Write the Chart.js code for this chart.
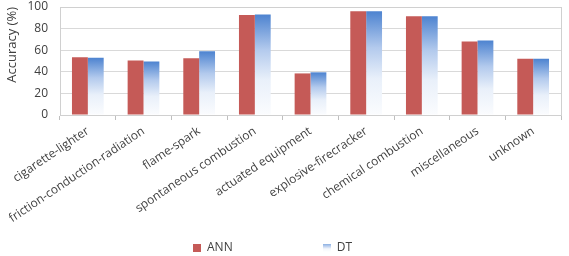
<!DOCTYPE html>
<html>
<head>
<meta charset="utf-8">
<script src="https://cdn.jsdelivr.net/npm/chart.js@4.4.1/dist/chart.umd.min.js"></script>
<style>
  html, body { margin: 0; padding: 0; background: #fff; overflow: hidden; }
  #wrap { width: 569px; height: 256px; }
</style>
</head>
<body>
<div id="wrap"><canvas id="accChart"></canvas></div>
<script>
var categories = ['cigarette-lighter', 'friction-conduction-radiation', 'flame-spark',
  'spontaneous combustion', 'actuated equipment', 'explosive-firecracker',
  'chemical combustion', 'miscellaneous', 'unknown'];
var annValues = [53.5, 50.5, 52.5, 92.5, 38.5, 96, 91.5, 68, 52];
var dtValues = [53, 49.5, 59, 93, 39.5, 96, 91.5, 69, 52];
var yTicks = [0, 20, 40, 60, 80, 100];

var textColor = '#404040';
var fontFamily = "'Open Sans', sans-serif";
var annColor = '#c55a57';

// blue-to-white fill for the DT bars, per bar from its top to the zero line
function dtFill(context) {
  if (context.type !== 'data') return '#8fb0e0';
  var chart = context.chart;
  var y = chart.scales.y;
  if (!chart.chartArea) return '#8fb0e0';
  var top = y.getPixelForValue(context.parsed.y);
  var bottom = y.getPixelForValue(0);
  var g = chart.ctx.createLinearGradient(0, top, 0, bottom);
  g.addColorStop(0, '#4d83d0');
  g.addColorStop(0.35, '#b3caed');
  g.addColorStop(0.65, '#e9f0fa');
  g.addColorStop(1, '#fbfcfe');
  return g;
}

// small legend swatches
function swatch(kind) {
  var c = document.createElement('canvas');
  c.width = 8; c.height = 8;
  var x = c.getContext('2d');
  if (kind === 'ann') {
    x.fillStyle = annColor;
    x.fillRect(0, 0, 8, 8);
  } else {
    var g = x.createLinearGradient(0, 0, 0, 8);
    g.addColorStop(0, '#8cb0e3');
    g.addColorStop(0.35, '#c9d9f2');
    g.addColorStop(0.6, '#f4f7fc');
    g.addColorStop(1, '#ffffff');
    x.fillStyle = g;
    x.fillRect(0, 0, 8, 8);
  }
  return c;
}
var swatches = [swatch('ann'), swatch('dt')];

// thin box round the plot area
var plotBorder = {
  id: 'plotBorder',
  afterDraw: function (chart) {
    var a = chart.chartArea, ctx = chart.ctx;
    ctx.save();
    ctx.strokeStyle = '#d0d0d0';
    ctx.lineWidth = 1;
    ctx.strokeRect(Math.round(a.left) + 0.5, Math.round(a.top) + 0.5,
      Math.round(a.right - a.left), Math.round(a.bottom - a.top));
    ctx.restore();
  }
};

var ctx = document.getElementById('accChart').getContext('2d');
var chart = new Chart(ctx, {
  type: 'bar',
  data: {
    labels: categories,
    datasets: [{
      label: 'ANN',
      data: annValues,
      backgroundColor: annColor,
      borderWidth: 0,
      categoryPercentage: 0.57,
      barPercentage: 1
    }, {
      label: 'DT',
      data: dtValues,
      backgroundColor: dtFill,
      borderWidth: 0,
      categoryPercentage: 0.57,
      barPercentage: 1
    }]
  },
  options: {
    responsive: true,
    maintainAspectRatio: false,
    animation: false,
    layout: { padding: { top: 7, right: 8, left: 0, bottom: -8 } },
    scales: {
      x: {
        grid: {
          display: true,
          drawOnChartArea: false,
          drawTicks: true,
          tickLength: 5,
          color: '#bfbfbf'
        },
        border: { display: true, color: '#bfbfbf' },
        ticks: {
          autoSkip: false,
          minRotation: 34,
          maxRotation: 34,
          padding: 4,
          color: textColor,
          font: { family: fontFamily, size: 12 }
        },
        afterFit: function (scale) {
          scale.height = 125;
        }
      },
      y: {
        min: 0,
        max: 100,
        afterBuildTicks: function (scale) {
          scale.ticks = yTicks.map(function (v) { return { value: v }; });
        },
        grid: { color: '#d9d9d9', drawTicks: false },
        border: { display: true, color: '#bfbfbf' },
        ticks: {
          padding: 12,
          color: textColor,
          font: { family: fontFamily, size: 12 }
        },
        title: {
          display: true,
          text: 'Accuracy (%)',
          align: 'end',
          color: textColor,
          padding: { top: 4, bottom: 4 },
          font: { family: fontFamily, size: 13 }
        },
        afterFit: function (scale) {
          scale.width = 60;
          scale.paddingTop = 0;
          scale.paddingBottom = 0;
        }
      }
    },
    plugins: {
      legend: {
        display: true,
        position: 'bottom',
        labels: {
          boxWidth: 8,
          boxHeight: 8,
          padding: 2,
          usePointStyle: true,
          color: textColor,
          font: { family: fontFamily, size: 12 },
          generateLabels: function (chart) {
            var items = Chart.defaults.plugins.legend.labels.generateLabels(chart);
            items.forEach(function (it, i) {
              it.lineWidth = 0;
              it.strokeStyle = 'rgba(0,0,0,0)';
              it.pointStyle = swatches[i];
              if (i === 0) {
                it.text = it.text + '\u2003\u2003\u2003\u2003\u2003\u2003\u2003\u2004';
              } else {
                it.text = it.text + '\u2003\u2004';
              }
            });
            return items;
          }
        }
      },
      tooltip: { enabled: false }
    }
  },
  plugins: [plotBorder]
});
</script>
</body>
</html>
